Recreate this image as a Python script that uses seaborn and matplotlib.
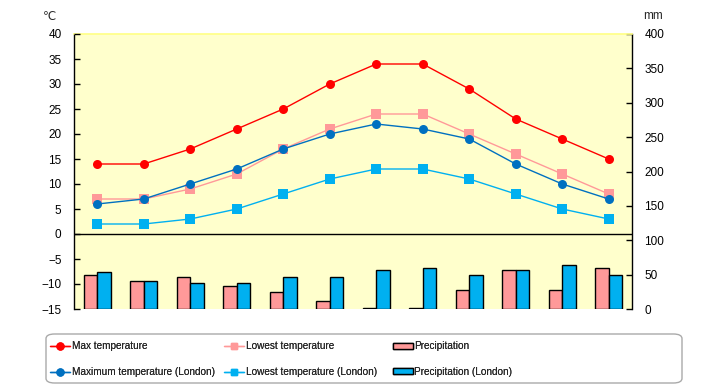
import matplotlib
matplotlib.use("Agg")
import matplotlib.pyplot as plt
import seaborn as sns
import pandas as pd
import numpy as np
from matplotlib.lines import Line2D
from matplotlib.patches import Patch, FancyBboxPatch

months = ["Jan", "Feb", "Mar", "Apr", "May", "Jun", "Jul", "Aug", "Sep", "Oct", "Nov", "Dec"]
max_temp = [14, 14, 17, 21, 25, 30, 34, 34, 29, 23, 19, 15]
low_temp = [7, 7, 9, 12, 17, 21, 24, 24, 20, 16, 12, 8]
max_london = [6, 7, 10, 13, 17, 20, 22, 21, 19, 14, 10, 7]
low_london = [2, 2, 3, 5, 8, 11, 13, 13, 11, 8, 5, 3]
precip = [50, 41, 46, 34, 25, 11, 1, 1, 28, 57, 28, 60]
precip_london = [54, 41, 38, 38, 47, 47, 57, 60, 50, 57, 64, 49]

temp_ticks = list(range(-15, 45, 5))
precip_ticks = list(range(0, 450, 50))

sns.set_theme(style="white")
plt.rcParams["font.family"] = ["Liberation Sans", "DejaVu Sans"]

fig = plt.figure(figsize=(7.2, 3.85), dpi=100)
ax_t = fig.add_axes([74/720, 1-309/385, 558/720, 275/385])
ax_p = ax_t.twinx()

# precipitation bars
dfp = pd.DataFrame({
    "month": months * 2,
    "value": precip + precip_london,
    "series": ["Precipitation"] * 12 + ["Precipitation (London)"] * 12,
})
sns.barplot(data=dfp, x="month", y="value", hue="series", order=months,
            palette=["#FF9999", "#00B0F0"], width=0.575, gap=0,
            edgecolor="black", linewidth=1.0, ax=ax_p, legend=False,
            saturation=1)
ax_p.set_ylim(0, 400)
ax_p.set_yticks(precip_ticks)
ax_p.set_ylabel("")
ax_p.set_xlabel("")
ax_p.set_facecolor("#FFFFCC")
ax_p.patch.set_visible(True)
ax_t.patch.set_visible(False)
ax_t.set_zorder(2)
ax_p.set_zorder(1)

x = np.arange(12)
series = [
    (max_temp, "#FF0000", "o", 6.5),
    (low_temp, "#FF9999", "s", 7),
    (max_london, "#0070C0", "o", 6.5),
    (low_london, "#00B0F0", "s", 7),
]
for vals, col, mk, ms in series:
    sns.lineplot(x=x, y=vals, ax=ax_t, color=col, marker=mk, markersize=ms,
                 markeredgewidth=0, linewidth=1.0, legend=False)
ax_t.axhline(0, color="black", linewidth=1.0, zorder=1)
ax_t.set_ylim(-15, 40)
ax_t.set_xlim(-0.5, 11.5)
ax_p.set_xlim(-0.5, 11.5)
ax_t.set_yticks(temp_ticks)
ax_t.set_xticks(x)
ax_t.set_xticklabels(months)

fs = 8.5
ax_t.yaxis.set_ticks_position("left")
ax_p.yaxis.set_ticks_position("right")
ax_t.tick_params(axis="y", which="major", direction="in", length=4, width=1, pad=9,
                 labelsize=fs, left=True, colors="black")
ax_t.tick_params(axis="x", length=0, pad=6, labelsize=fs)
ax_p.tick_params(axis="y", which="major", direction="in", length=4, width=1, pad=9,
                 labelsize=fs, right=True, colors="black")
ax_p.set_xticks([])

for a in (ax_t, ax_p):
    for s in a.spines.values():
        s.set_visible(False)
for k in ("left", "right"):
    ax_p.spines[k].set_visible(True)
    ax_p.spines[k].set_color("black")
    ax_p.spines[k].set_linewidth(1.0)
ax_p.spines["top"].set_visible(True)
ax_p.spines["top"].set_color("#FFFF88")

fig.text(43/720, 1-16/385, "\u2103", fontsize=fs, ha="left", va="center",
         family=["DejaVu Sans"])
fig.text(643/720, 1-16/385, "mm", fontsize=fs, ha="left", va="center")

# legend frame
frame = FancyBboxPatch((46/720, 1-383/385), 636/720, 49/385,
                       boxstyle="round,pad=0,rounding_size=0.012",
                       transform=fig.transFigure, facecolor="white",
                       edgecolor="#AAAAAA", linewidth=1.0)
fig.patches.append(frame)

cols = [
    ([Line2D([], [], color="#FF0000", marker="o", markersize=5, lw=1),
      Line2D([], [], color="#0070C0", marker="o", markersize=5, lw=1)],
     ["Max temperature", "Maximum temperature (London)"], 50),
    ([Line2D([], [], color="#FF9999", marker="s", markersize=5, lw=1),
      Line2D([], [], color="#00B0F0", marker="s", markersize=5, lw=1)],
     ["Lowest temperature", "Lowest temperature (London)"], 224),
    ([Patch(facecolor="#FF9999", edgecolor="black", linewidth=1),
      Patch(facecolor="#00B0F0", edgecolor="black", linewidth=1)],
     ["Precipitation", "Precipitation (London)"], 393),
]
for hs, ls, x0 in cols:
    lg = fig.legend(hs, ls, loc="center left",
                    bbox_to_anchor=(x0/720, 1-359/385), ncol=1,
                    fontsize=7.2, frameon=False, handlelength=2.0,
                    handleheight=0.5, handletextpad=0.15, labelspacing=1.55,
                    borderpad=0, borderaxespad=0)
    fig.add_artist(lg)

fig.savefig("out.png", dpi=100, facecolor="white")
